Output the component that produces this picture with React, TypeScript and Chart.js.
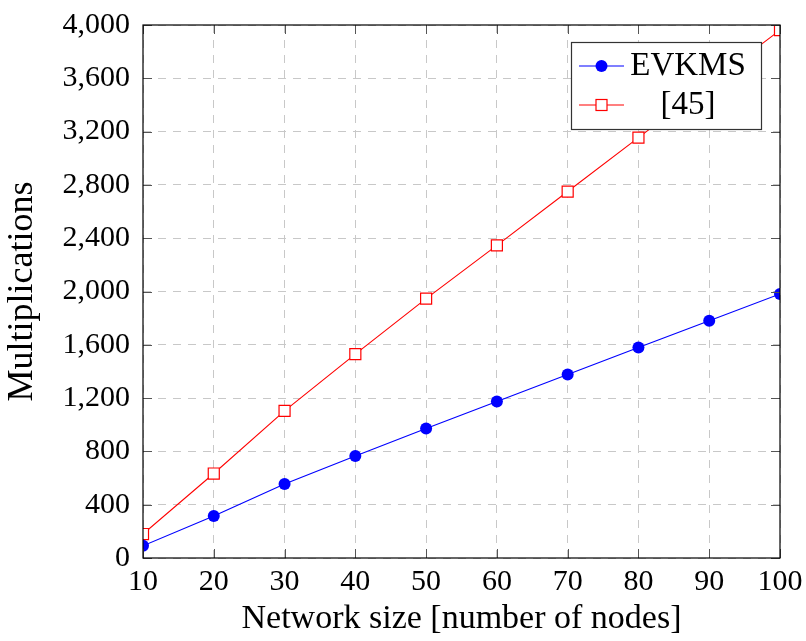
import React, { useEffect, useRef } from "react";
import { Chart, registerables } from "chart.js";

Chart.register(...registerables);

const networkSizes = [10, 20, 30, 40, 50, 60, 70, 80, 90, 100];
const evkmsValues = [92, 316, 555, 766, 972, 1175, 1377, 1580, 1780, 1982];
const ref45Values = [180, 634, 1104, 1530, 1947, 2346, 2750, 3155, 3558, 3962];
const seriesLabels = ["EVKMS", "[45]"];
const xTitle = "Network size [number of nodes]";
const yTitle = "Multiplications";

const FONT = "'Liberation Serif', 'Times New Roman', serif";

const framePlugin = {
  id: "frameAndLegend",
  afterDraw(chart: any) {
    const { ctx, chartArea } = chart;
    const { left, right, top, bottom } = chartArea;
    const xs = chart.scales.x;
    const ys = chart.scales.y;
    ctx.save();
    ctx.strokeStyle = "#555555";
    ctx.lineWidth = 1;
    const tl = 9;
    ctx.beginPath();
    xs.ticks.forEach((t: any) => {
      const x = Math.round(xs.getPixelForValue(t.value)) + 0.5;
      ctx.moveTo(x, bottom);
      ctx.lineTo(x, bottom - tl);
      ctx.moveTo(x, top);
      ctx.lineTo(x, top + tl);
    });
    ys.ticks.forEach((t: any) => {
      const y = Math.round(ys.getPixelForValue(t.value)) + 0.5;
      ctx.moveTo(left, y);
      ctx.lineTo(left + tl, y);
      ctx.moveTo(right, y);
      ctx.lineTo(right - tl, y);
    });
    ctx.stroke();
    ctx.strokeStyle = "#000000";
    ctx.lineWidth = 1.2;
    ctx.strokeRect(left, top, right - left, bottom - top);

    const bx = 571, by = 42, bw = 190, bh = 87;
    ctx.fillStyle = "#ffffff";
    ctx.fillRect(bx, by, bw, bh);
    ctx.strokeStyle = "#333333";
    ctx.lineWidth = 1.2;
    ctx.strokeRect(bx + 0.5, by + 0.5, bw, bh);
    const rows = [66, 105];
    chart.data.datasets.forEach((ds: any, i: number) => {
      const y = rows[i];
      ctx.strokeStyle = ds.borderColor;
      ctx.lineWidth = 1.1;
      ctx.beginPath();
      ctx.moveTo(579, y);
      ctx.lineTo(624, y);
      ctx.stroke();
      if (ds.pointStyle === "circle") {
        ctx.fillStyle = ds.pointBackgroundColor;
        ctx.beginPath();
        ctx.arc(601.5, y, 6, 0, Math.PI * 2);
        ctx.fill();
      } else {
        ctx.fillStyle = "#ffffff";
        ctx.fillRect(596, y - 5.5, 11, 11);
        ctx.strokeStyle = ds.pointBorderColor;
        ctx.lineWidth = 1.2;
        ctx.strokeRect(596, y - 5.5, 11, 11);
      }
      ctx.fillStyle = "#000000";
      ctx.font = `33px ${FONT}`;
      ctx.textAlign = "center";
      ctx.textBaseline = "middle";
      ctx.fillText(ds.label, 688, y);
    });
    ctx.restore();
  },
};

export default function App() {
  const canvasRef = useRef<HTMLCanvasElement | null>(null);

  useEffect(() => {
    const canvas = canvasRef.current;
    if (!canvas) return;
    const chart = new Chart(canvas, {
      type: "line",
      data: {
        datasets: [
          {
            label: seriesLabels[0],
            data: networkSizes.map((x, i) => ({ x, y: evkmsValues[i] })),
            borderColor: "#0000ff",
            backgroundColor: "#0000ff",
            pointBackgroundColor: "#0000ff",
            pointBorderColor: "#0000ff",
            pointStyle: "circle",
            pointRadius: 6,
            pointBorderWidth: 0,
            borderWidth: 1.1,
            tension: 0,
          },
          {
            label: seriesLabels[1],
            data: networkSizes.map((x, i) => ({ x, y: ref45Values[i] })),
            borderColor: "#ff0000",
            backgroundColor: "#ffffff",
            pointBackgroundColor: "#ffffff",
            pointBorderColor: "#ff0000",
            pointStyle: "rect",
            pointRadius: 7.8,
            pointBorderWidth: 1.2,
            borderWidth: 1.1,
            tension: 0,
          },
        ],
      },
      options: {
        animation: false,
        responsive: false,
        maintainAspectRatio: false,
        devicePixelRatio: 1,
        layout: { padding: { top: 25, right: 26, left: 0, bottom: 0 } },
        plugins: {
          legend: { display: false },
          tooltip: { enabled: false },
        },
        scales: {
          x: {
            type: "linear",
            min: 10,
            max: 100,
            ticks: {
              stepSize: 10,
              color: "#000",
              padding: 6,
              font: { family: FONT, size: 30 },
              maxRotation: 0,
            },
            grid: { color: "#c8c8c8", lineWidth: 1, drawTicks: false },
            border: { display: false, dash: [8, 7] },
            title: {
              display: true,
              text: xTitle,
              color: "#000",
              font: { family: FONT, size: 34, lineHeight: 1 },
              padding: { top: 0, bottom: 5 },
            },
            afterFit: (scale: any) => {
              scale.height = 83;
              scale.paddingLeft = 0;
              scale.paddingRight = 0;
            },
          },
          y: {
            type: "linear",
            min: 0,
            max: 4000,
            ticks: {
              stepSize: 400,
              color: "#000",
              padding: 13,
              font: { family: FONT, size: 30 },
              callback: (v: any) => Number(v).toLocaleString("en-US"),
            },
            grid: { color: "#c8c8c8", lineWidth: 1, drawTicks: false },
            border: { display: false, dash: [8, 7] },
            title: {
              display: true,
              text: yTitle,
              color: "#000",
              font: { family: FONT, size: 36, lineHeight: 1 },
              padding: { top: 5, bottom: 0 },
            },
            afterFit: (scale: any) => {
              scale.width = 143;
              scale.paddingTop = 0;
              scale.paddingBottom = 0;
            },
          },
        },
      },
      plugins: [framePlugin],
    });
    return () => chart.destroy();
  }, []);

  return (
    <div style={{ position: "fixed", left: 0, top: 0, width: 806, height: 641, background: "#fff" }}>
      <canvas ref={canvasRef} width={806} height={641} style={{ display: "block", width: 806, height: 641 }} />
    </div>
  );
}
